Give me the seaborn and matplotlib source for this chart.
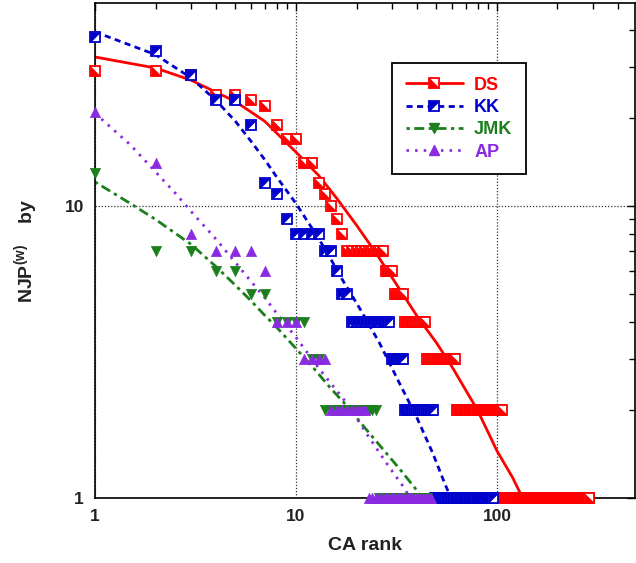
import numpy as np
import pandas as pd
import matplotlib
matplotlib.use("Agg")
import matplotlib.pyplot as plt
import seaborn as sns
from matplotlib.lines import Line2D
from matplotlib.ticker import FixedLocator, LogLocator, NullFormatter, FixedFormatter

# ---------------- data ----------------
series_names = ["DS", "KK", "JMK", "AP"]
colors = ["#FF0000", "#0000CD", "#1B7F1B", "#8A2BE2"]

# rank-frequency markers: value levels and number of consecutive ranks at that level
ds_levels = [29, 28, 24, 23, 22, 19, 17, 14, 12, 11, 10, 9, 8, 7, 6, 5, 4, 3, 2, 1]
ds_counts = [2, 1, 2, 1, 1, 1, 2, 2, 1, 1, 1, 1, 1, 10, 3, 4, 10, 18, 44, 182]
kk_levels = [38, 34, 28, 23, 19, 12, 11, 9, 8, 7, 6, 5, 4, 3, 2, 1]
kk_counts = [1, 1, 1, 2, 1, 1, 1, 1, 4, 2, 1, 2, 11, 5, 14, 47]
jmk_levels = [13, 7, 6, 5, 4, 3, 2, 1]
jmk_counts = [1, 2, 2, 2, 4, 2, 12, 20]
ap_levels = [21, 14, 8, 7, 6, 4, 3, 2, 1]
ap_counts = [1, 1, 1, 3, 1, 3, 4, 8, 25]

# fitted curves
ds_fit_rank = [1, 2, 3, 5, 7, 10, 13, 16, 20, 25, 30, 40, 50, 60, 80, 100, 120, 134]
ds_fit_val = [32.4, 29.7, 27.0, 22.8, 19.5, 15.3, 12.7, 10.6, 8.6, 6.9, 5.7, 4.2, 3.4, 2.8, 2.0, 1.45, 1.17, 1.0]
kk_fit_rank = [1, 2, 3, 4, 5, 6, 7, 8, 10, 12, 14, 17, 21, 26, 32, 40, 48, 55, 59]
kk_fit_val = [39.5, 33, 27.5, 23, 19.5, 16.6, 14.4, 12.6, 10.2, 8.4, 7.1, 5.6, 4.4, 3.4, 2.55, 1.88, 1.42, 1.12, 1.0]
jmk_fit_rank = [1, 1.5, 2, 3, 4, 5, 6, 7, 8, 10, 12, 15, 18, 22, 28, 34, 40, 42]
jmk_fit_val = [12.1, 10.2, 9.0, 7.4, 6.2, 5.35, 4.72, 4.22, 3.85, 3.25, 2.83, 2.36, 2.06, 1.74, 1.43, 1.22, 1.06, 1.0]
ap_fit_rank = [1, 1.5, 2, 2.5, 3, 4, 5, 6, 7, 8, 10, 13, 18, 23, 29, 34, 37]
ap_fit_val = [20.8, 16.2, 13.1, 11.1, 9.6, 7.7, 6.4, 5.5, 4.85, 4.3, 3.55, 2.78, 2.1, 1.62, 1.28, 1.1, 1.0]

x_ticks = [1, 10, 100]
x_ticklabels = ["1", "10", "100"]
y_ticks = [1, 10]
y_ticklabels = ["1", "10"]

# ---------------- style ----------------
sns.set_theme(style="white")
plt.rcParams["font.family"] = ["Liberation Sans", "DejaVu Sans"]
plt.rcParams["font.weight"] = "bold"
plt.rcParams["mathtext.fontset"] = "custom"
plt.rcParams["mathtext.rm"] = "Liberation Sans:bold"
plt.rcParams["mathtext.it"] = "Liberation Sans:bold"
plt.rcParams["mathtext.bf"] = "Liberation Sans:bold"
plt.rcParams["mathtext.default"] = "rm"

fig = plt.figure(figsize=(6.36, 5.63), dpi=100)
ax = fig.add_axes([95 / 636, 1 - 498 / 563, 540 / 636, 495 / 563])
ax.set_xscale("log")
ax.set_yscale("log")

def expand(levels, counts):
    vals = np.repeat(levels, counts)
    ranks = np.arange(1, len(vals) + 1)
    return ranks, vals

ls_kk = (0, (2.2, 1.6))
ls_jmk = (0, (1.2, 1.6, 3.6, 1.6))
ls_ap = (0, (0.9, 2.2))
fits = [(ds_fit_rank, ds_fit_val, "-"),
        (kk_fit_rank, kk_fit_val, ls_kk),
        (jmk_fit_rank, jmk_fit_val, ls_jmk),
        (ap_fit_rank, ap_fit_val, ls_ap)]

for (fr, fv, ls), c in zip(fits, colors):
    df = pd.DataFrame({"rank": fr, "val": fv})
    sns.lineplot(data=df, x="rank", y="val", ax=ax, color=c, linestyle=ls,
                 linewidth=2.0, estimator=None, sort=False, zorder=2)

MS = 6.6
tri_ll = [(-1, -1), (1, -1), (-1, 1), (-1, -1)]   # lower-left filled (DS)
tri_ul = [(-1, -1), (-1, 1), (1, 1), (-1, -1)]    # upper-left filled (KK)

def half_squares(ranks, vals, color, tri):
    for r, v in zip(ranks, vals):
        ax.plot([r], [v], marker="s", ms=MS, mfc="white", mec=color, mew=1.3,
                ls="none", zorder=3, clip_on=False)
        ax.plot([r], [v], marker=tri, ms=MS, mfc=color, mec=color, mew=0.5,
                ls="none", zorder=3, clip_on=False)

r, v = expand(ds_levels, ds_counts)
half_squares(r, v, colors[0], tri_ll)
r, v = expand(kk_levels, kk_counts)
half_squares(r, v, colors[1], tri_ul)
r, v = expand(jmk_levels, jmk_counts)
sns.scatterplot(x=r, y=v, ax=ax, marker="v", s=MS**2 * 1.25, color=colors[2],
                edgecolor=colors[2], linewidth=0.5, zorder=3, clip_on=False)
r, v = expand(ap_levels, ap_counts)
sns.scatterplot(x=r, y=v, ax=ax, marker="^", s=MS**2 * 1.25, color=colors[3],
                edgecolor=colors[3], linewidth=0.5, zorder=3, clip_on=False)

ax.set_xlim(1, 486)
ax.set_ylim(1, 49.6)

ax.xaxis.set_major_locator(FixedLocator(x_ticks))
ax.xaxis.set_major_formatter(FixedFormatter(x_ticklabels))
ax.xaxis.set_minor_locator(LogLocator(base=10, subs=np.arange(2, 10)))
ax.xaxis.set_minor_formatter(NullFormatter())
ax.yaxis.set_major_locator(FixedLocator(y_ticks))
ax.yaxis.set_major_formatter(FixedFormatter(y_ticklabels))
ax.yaxis.set_minor_locator(LogLocator(base=10, subs=np.arange(2, 10)))
ax.yaxis.set_minor_formatter(NullFormatter())

ax.tick_params(which="both", direction="in", top=True, right=True, width=1.0,
               color="black")
ax.tick_params(which="major", length=6, labelsize=12.5, labelcolor="#222222")
ax.tick_params(which="minor", length=4)
ax.tick_params(axis="x", which="major", pad=8)
ax.tick_params(axis="y", which="major", pad=8)

for sp in ax.spines.values():
    sp.set_color("black")
    sp.set_linewidth(1.2)

ax.grid(which="major", linestyle=(0, (1, 1.5)), linewidth=0.9, color="#333333")
ax.grid(which="minor", visible=False)

ax.set_xlabel("CA rank", fontsize=14, fontweight="bold", color="#222222", labelpad=9)
ax.set_ylabel("NJP$^{(w)}$    by", fontsize=14, fontweight="bold", color="#222222",
              labelpad=18)

# legend
hd_ds = (Line2D([], [], color=colors[0], lw=2.0, ls="-"),
         Line2D([], [], marker="s", ms=MS, mfc="white", mec=colors[0], mew=1.3, ls="none"),
         Line2D([], [], marker=tri_ll, ms=MS, mfc=colors[0], mec=colors[0], mew=0.5, ls="none"))
hd_kk = (Line2D([], [], color=colors[1], lw=2.0, ls=ls_kk),
         Line2D([], [], marker="s", ms=MS, mfc="white", mec=colors[1], mew=1.3, ls="none"),
         Line2D([], [], marker=tri_ul, ms=MS, mfc=colors[1], mec=colors[1], mew=0.5, ls="none"))
hd_jmk = Line2D([], [], color=colors[2], lw=2.0, ls=ls_jmk,
                marker="v", ms=MS * 1.1, mfc=colors[2], mec=colors[2])
hd_ap = Line2D([], [], color=colors[3], lw=2.0, ls=ls_ap,
               marker="^", ms=MS * 1.1, mfc=colors[3], mec=colors[3])
leg = ax.legend([hd_ds, hd_kk, hd_jmk, hd_ap], series_names,
                loc="upper left", bbox_to_anchor=((392 - 95) / 540, 1 - (63 - 3) / 495),
                borderaxespad=0.0,
                frameon=True, fancybox=False, shadow=False, framealpha=1,
                fontsize=13, handlelength=3.2, handletextpad=0.6, labelspacing=0.3,
                borderpad=0.75, numpoints=1)
leg.get_frame().set_edgecolor("black")
leg.get_frame().set_linewidth(1.3)
for t, c in zip(leg.get_texts(), colors):
    t.set_color(c)
    t.set_fontweight("bold")

fig.savefig("out.png", dpi=100, facecolor="white")
